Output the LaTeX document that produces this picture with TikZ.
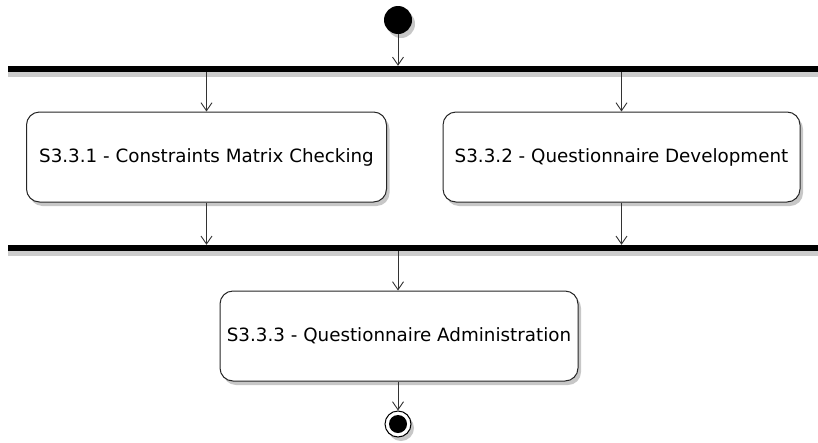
\documentclass[tikz,border=0pt]{standalone}
\usepackage{fontspec}
\setmainfont{DejaVu Sans}
\usetikzlibrary{arrows.meta,shadows}
\begin{document}
\begin{tikzpicture}[x=1pt,y=-1pt,
  shade/.style={drop shadow={shadow xshift=3pt,shadow yshift=-4pt,fill=black!22,opacity=1}},
  activity/.style={draw=black!85,line width=1pt,fill=white,rounded corners=13pt,
    minimum height=90pt,inner sep=0pt,font=\fontsize{18.3}{22}\selectfont,shade},
  bar/.style={fill=black,draw=none,inner sep=0pt,minimum height=6pt,
    drop shadow={shadow xshift=0pt,shadow yshift=-5pt,fill=black!20,opacity=1}},
  flow/.style={draw=black!80,line width=0.9pt,-{Straight Barb[length=8pt,width=11pt,line width=0.9pt]}}]
\useasboundingbox (0,0) rectangle (818,442);
% initial and final states
\node[circle,fill=black,minimum size=28pt,inner sep=0pt,shade] (start) at (398,20) {};
\node[circle,draw=black,line width=1pt,fill=white,minimum size=26pt,inner sep=0pt,shade] (stop) at (398,424) {};
\node[circle,fill=black,minimum size=18pt,inner sep=0pt] (stopdot) at (398,424) {};
% fork and join bars
\node[bar,minimum width=810pt] (fork) at (413,69) {};
\node[bar,minimum width=810pt] (join) at (413,248) {};
% activities
\node[activity,minimum width=360pt] (a1) at (206.5,157) {S3.3.1 - Constraints Matrix Checking};
\node[activity,minimum width=357pt] (a2) at (621.5,157) {S3.3.2 - Questionnaire Development};
\node[activity,minimum width=358pt] (a3) at (399,336) {S3.3.3 - Questionnaire Administration};
% control flows
\draw[flow] (start.south) -- (fork.north -| start);
\draw[flow] (fork.south -| a1) -- (a1.north);
\draw[flow] (fork.south -| a2) -- (a2.north);
\draw[flow] (a1.south) -- (join.north -| a1);
\draw[flow] (a2.south) -- (join.north -| a2);
\draw[flow] (join.south -| stop) -- (a3.north -| stop);
\draw[flow] (a3.south -| stop) -- (stop.north);
\end{tikzpicture}
\end{document}
